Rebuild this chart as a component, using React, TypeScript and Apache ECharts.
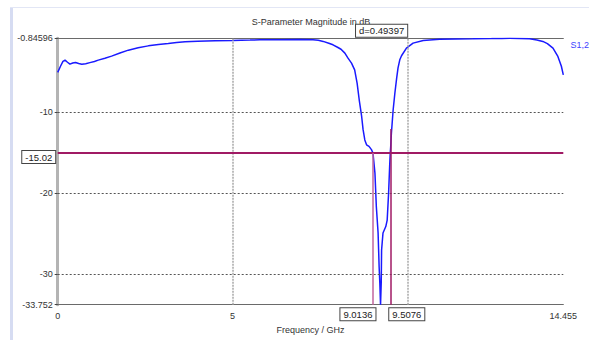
import React, { useEffect, useRef } from "react";
import * as echarts from "echarts";

const freqGHz = [
  0.0, 0.08, 0.15, 0.21, 0.28, 0.35, 0.43, 0.51, 0.6, 0.69, 0.8, 0.92, 1.05, 1.16, 1.35, 1.54, 1.78, 2.02, 2.3,
  2.59, 2.88, 3.16, 3.4, 3.64, 4.0, 4.5, 5.0, 5.5, 5.78, 6.3, 6.93, 7.3, 7.45, 7.59, 7.75, 7.87, 8.0, 8.1, 8.21,
  8.3, 8.4, 8.49, 8.56, 8.62, 8.69, 8.73, 8.78, 8.83, 8.9, 8.97, 9.0136, 9.07, 9.11, 9.16, 9.19, 9.21, 9.23, 9.25,
  9.26, 9.3, 9.38, 9.42, 9.46, 9.49, 9.5076, 9.52, 9.54, 9.59, 9.64, 9.69, 9.73, 9.78, 9.83, 9.97, 10.16, 10.45,
  10.92, 11.4, 11.87, 12.4, 12.7, 12.92, 13.2, 13.49, 13.7, 13.87, 14.0, 14.16, 14.3, 14.4, 14.455,
];
const s12dB = [
  -5.06, -4.3, -3.7, -3.54, -3.8, -4.04, -3.9, -3.83, -3.95, -4.04, -3.98, -3.85, -3.72, -3.54, -3.3, -3.05, -2.66,
  -2.31, -2.02, -1.78, -1.6, -1.48, -1.37, -1.28, -1.2, -1.15, -1.12, -1.07, -1.04, -1.02, -0.99, -1.02, -1.1, -1.23,
  -1.45, -1.65, -1.95, -2.2, -2.68, -3.3, -3.91, -4.74, -6.38, -8.44, -10.5, -12.1, -13.4, -14.0, -14.2, -14.6,
  -15.02, -17.5, -21.65, -24.9, -29.1, -31.1, -33.752, -31.0, -27.0, -24.9, -24.1, -23.3, -20.0, -16.7, -15.02,
  -14.25, -12.6, -9.7, -7.6, -5.8, -4.5, -3.5, -3.0, -2.06, -1.44, -1.11, -0.95, -0.92, -0.91, -0.88, -0.86,
  -0.84596, -0.87, -0.91, -1.05, -1.23, -1.5, -2.06, -3.09, -4.3, -5.36,
];

const xMin = 0;
const xMax = 14.455;
const yMin = -33.752;
const yMax = -0.84596;
const xTickValues = [0, 5, 14.455];
const xTickLabels = ["0", "5", "14.455"];
const yTickValues = [-0.84596, -10, -20, -30, -33.752];
const yTickLabels = ["-0.84596", "-10", "-20", "-30", "-33.752"];
const xGridValues = [5, 10];
const yGridValues = [-10, -20, -30];

const markerLevel = -15.02;
const markerLevelLabel = "-15.02";
const markerF1 = 9.0136;
const markerF2 = 9.5076;
const markerF1Label = "9.0136";
const markerF2Label = "9.5076";
const markerF2Top = -12.06;
const deltaLabel = "d=0.49397";

const FONT = "Liberation Sans";

export default function App() {
  const ref = useRef<HTMLDivElement>(null);
  useEffect(() => {
    if (!ref.current) return;
    const chart = echarts.init(ref.current, null, { renderer: "svg" });
    const curve = freqGHz.map((f, i) => [f, s12dB[i]]);
    chart.setOption({
      animation: false,
      backgroundColor: "#ffffff",
      textStyle: { fontFamily: FONT },
      grid: { left: 57.7, right: 25.7, top: 38.3, bottom: 35.3 },
      xAxis: [
        {
          type: "value",
          min: xMin,
          max: xMax,
          splitLine: { show: false },
          axisLine: { show: true, lineStyle: { color: "#6a6a6a", width: 1.2 } },
          axisTick: { show: false },
          axisLabel: {
            customValues: xTickValues,
            formatter: (v: number) => {
              const i = xTickValues.findIndex((t) => Math.abs(t - v) < 1e-6);
              return i >= 0 ? xTickLabels[i] : "";
            },
            color: "#333",
            fontFamily: FONT,
            fontSize: 9,
            margin: 7,
          },
          name: "Frequency / GHz",
          nameLocation: "middle",
          nameGap: 20,
          nameTextStyle: { color: "#333", fontFamily: FONT, fontSize: 9 },
        },
        {
          type: "value",
          position: "top",
          min: xMin,
          max: xMax,
          splitLine: { show: false },
          axisLine: { show: true, lineStyle: { color: "#6a6a6a", width: 1.2 } },
          axisTick: { show: false },
          axisLabel: { show: false },
        },
      ],
      yAxis: [
        {
          type: "value",
          min: yMin,
          max: yMax,
          splitLine: { show: false },
          axisLine: { show: true, lineStyle: { color: "#a8a8a8", width: 2 } },
          axisTick: { show: true, customValues: yTickValues, length: 3, lineStyle: { color: "#444" } },
          axisLabel: {
            customValues: yTickValues,
            formatter: (v: number) => {
              const i = yTickValues.findIndex((t) => Math.abs(t - v) < 1e-6);
              return i >= 0 ? yTickLabels[i] : "";
            },
            color: "#333",
            fontFamily: FONT,
            fontSize: 9,
            margin: 5,
          },
        },
        {
          type: "value",
          position: "right",
          min: yMin,
          max: yMax,
          splitLine: { show: false },
          axisLine: { show: true, lineStyle: { color: "#b4b4b4", width: 3 } },
          axisTick: { show: false },
          axisLabel: { show: false },
        },
      ],
      series: [
        {
          type: "line",
          silent: true,
          data: [],
          z: 1,
          markLine: {
            silent: true,
            symbol: "none",
            label: { show: false },
            data: [
              ...yGridValues.map((v) => ({
                yAxis: v,
                lineStyle: { color: "#555", type: [2, 2], width: 1 },
              })),
              ...xGridValues.map((v) => ({
                xAxis: v,
                lineStyle: { color: "#a8a8a8", type: [2, 1], width: 1.5 },
              })),
            ],
          },
        },
        {
          name: "S1,2",
          type: "line",
          data: curve,
          showSymbol: false,
          symbol: "none",
          z: 3,
          lineStyle: { color: "#1a1aff", width: 1.5 },
        },
        {
          type: "line",
          silent: true,
          data: [],
          z: 4,
          markLine: {
            silent: true,
            symbol: "none",
            label: { show: false },
            data: [
              [
                { coord: [xMin, markerLevel], lineStyle: { color: "#a01a64", width: 2.2, type: "solid" } },
                { coord: [xMax, markerLevel] },
              ],
              [
                { coord: [markerF1, markerLevel], lineStyle: { color: "#c2649c", width: 1.5, type: "solid" } },
                { coord: [markerF1, yMin] },
              ],
              [
                { coord: [markerF2, markerF2Top], lineStyle: { color: "#a01a64", width: 1.5, type: "solid" } },
                { coord: [markerF2, yMin] },
              ],
            ],
          },
        },
      ],
    });

    const p = (x: number, y: number) => chart.convertToPixel({ gridIndex: 0 }, [x, y]) as number[];
    const pL = p(xMin, markerLevel);
    const p1 = p(markerF1, yMin);
    const p2 = p(markerF2, yMin);
    const pTop1 = p(markerF1, yMax);
    const pTop2 = p(markerF2, yMax);
    const boxText = (x: number, y: number, text: string, align: string, verticalAlign: string) => ({
      type: "text",
      x,
      y,
      z: 20,
      style: {
        text,
        align,
        verticalAlign,
        fontFamily: FONT,
        fontSize: 9.5,
        fill: "#222",
        backgroundColor: "#fff",
        borderColor: "#444",
        borderWidth: 1,
        padding: [1, 3, 1, 3],
      },
    });
    chart.setOption({
      graphic: [
        { type: "rect", shape: { x: 10, y: 7, width: 3, height: 333 }, style: { fill: "#d6dcf2" }, silent: true },
        { type: "rect", shape: { x: 10, y: 7, width: 579, height: 1 }, style: { fill: "#e2e6f5" }, silent: true },
        {
          type: "text",
          x: 311,
          y: 22,
          style: {
            text: "S-Parameter Magnitude in dB",
            align: "center",
            verticalAlign: "middle",
            fontFamily: FONT,
            fontSize: 9,
            fill: "#333",
          },
        },
        {
          type: "text",
          x: 570.5,
          y: 45,
          style: { text: "S1,2", align: "left", verticalAlign: "middle", fontFamily: FONT, fontSize: 9, fill: "#4040ff" },
        },
        boxText(pL[0] - 2.5, pL[1] + 4, markerLevelLabel, "right", "middle"),
        boxText(p1[0] + 2.5, p1[1] + 3.5, markerF1Label, "right", "top"),
        boxText(p2[0] - 1, p2[1] + 3.5, markerF2Label, "left", "top"),
        boxText((pTop1[0] + pTop2[0]) / 2, pTop1[1] - 1.5, deltaLabel, "center", "bottom"),
      ],
    });

    return () => chart.dispose();
  }, []);
  return <div ref={ref} style={{ position: "fixed", left: 0, top: 0, width: 589, height: 340 }} />;
}
